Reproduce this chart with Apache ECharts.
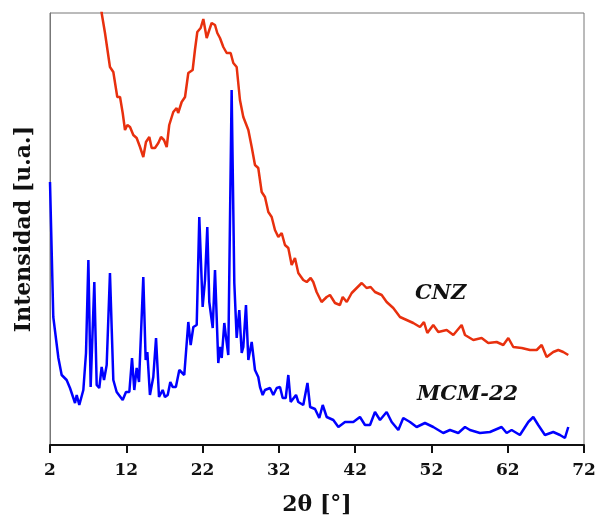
<!doctype html>
<html lang="es">
  <head>
    <meta charset="UTF-8" />
    <title>DRX CNZ / MCM-22</title>
    <script src="https://cdn.jsdelivr.net/npm/echarts@6/dist/echarts.min.js"></script>
    <style>
      body {
        margin: 0;
        padding: 0;
        background: #fff;
      }
      .main {
        width: 596px;
        height: 518px;
      }
    </style>
  </head>
  <body>
    <div class="main"></div>
    <script>
      // 2θ ticks
      const xTicks = [2, 12, 22, 32, 42, 52, 62, 72];

      // CNZ (red) - 2θ and intensidad
      const cnzTheta = [8.3, 8.77, 9.21, 9.86, 10.3, 10.82, 11.18, 11.53, 11.83, 12.14, 12.49, 12.92, 13.36, 13.8, 14.23, 14.58, 15.02, 15.33, 15.76, 16.2, 16.55, 16.94, 17.3, 17.63, 18.16, 18.6, 18.8, 19.26, 19.7, 20.13, 20.7, 21.0, 21.31, 21.75, 22.1, 22.54, 22.88, 23.19, 23.63, 23.93, 24.28, 24.72, 25.16, 25.68, 26.03, 26.47, 26.9, 27.34, 28.0, 28.44, 28.87, 29.3, 29.75, 30.18, 30.62, 31.06, 31.49, 31.93, 32.37, 32.8, 33.24, 33.68, 34.11, 34.55, 35.2, 35.65, 36.17, 36.51, 36.95, 37.6, 38.27, 38.7, 39.36, 40.0, 40.37, 40.9, 41.55, 42.2, 42.86, 43.5, 44.03, 44.6, 45.48, 46.13, 47.0, 47.88, 48.75, 49.62, 50.5, 51.02, 51.46, 52.24, 52.9, 54.0, 54.87, 55.96, 56.4, 57.49, 58.58, 59.45, 60.55, 61.42, 62.08, 62.73, 63.83, 64.92, 65.8, 66.45, 67.1, 67.97, 68.63, 69.28, 69.94];
      const cnzInt = [470, 432, 412, 378, 373, 348, 348, 332, 315, 320, 318, 310, 307, 298, 288, 303, 308, 297, 297, 302, 308, 305, 298, 320, 333, 337, 332, 343, 348, 372, 375, 395, 413, 417, 426, 407, 415, 422, 420, 412, 407, 398, 392, 392, 382, 378, 345, 328, 315, 298, 280, 277, 253, 248, 233, 228, 215, 208, 212, 200, 197, 180, 187, 172, 165, 163, 167, 163, 153, 143, 148, 150, 142, 140, 148, 143, 152, 157, 162, 157, 158, 153, 150, 143, 137, 128, 125, 122, 118, 123, 112, 120, 113, 115, 110, 120, 110, 105, 107, 102, 103, 100, 107, 98, 97, 95, 95, 100, 88, 93, 95, 93, 90];

      // MCM-22 (blue)
      const mcmTheta = [2.0, 2.43, 3.1, 3.53, 4.18, 4.62, 5.28, 5.5, 5.84, 6.37, 6.72, 7.03, 7.33, 7.81, 8.12, 8.46, 8.77, 9.08, 9.43, 9.86, 10.3, 10.74, 11.53, 11.96, 12.4, 12.75, 13.05, 13.36, 13.67, 14.23, 14.54, 14.76, 15.1, 15.54, 15.9, 16.29, 16.77, 17.07, 17.43, 17.77, 18.08, 18.5, 18.95, 19.6, 20.13, 20.44, 20.79, 21.23, 21.57, 22.01, 22.32, 22.62, 22.88, 23.1, 23.33, 23.63, 24.06, 24.28, 24.51, 24.85, 25.07, 25.37, 25.81, 26.16, 26.47, 26.81, 27.13, 27.34, 27.69, 28.0, 28.44, 28.87, 29.3, 29.53, 29.88, 30.18, 30.84, 31.27, 31.72, 32.15, 32.5, 32.9, 33.24, 33.55, 34.25, 34.55, 35.2, 35.75, 36.1, 36.74, 37.3, 37.75, 38.27, 39.14, 39.8, 40.67, 41.76, 42.63, 43.29, 43.95, 44.6, 45.26, 46.13, 46.79, 47.66, 48.31, 49.19, 50.06, 51.15, 52.24, 53.55, 54.43, 55.52, 56.4, 57.05, 58.36, 59.67, 61.2, 61.86, 62.51, 63.6, 64.7, 65.35, 66.0, 66.88, 67.97, 68.85, 69.5, 69.94];
      const mcmInt = [263, 128, 87, 70, 65, 57, 42, 50, 40, 55, 92, 185, 58, 163, 60, 57, 78, 65, 80, 172, 65, 53, 45, 53, 53, 87, 55, 77, 63, 168, 85, 93, 50, 68, 107, 48, 55, 48, 50, 63, 58, 58, 75, 70, 123, 100, 118, 120, 228, 138, 165, 218, 143, 142, 117, 175, 82, 98, 87, 122, 108, 90, 355, 162, 107, 135, 92, 98, 140, 85, 103, 75, 68, 58, 50, 55, 57, 50, 57, 58, 47, 47, 70, 43, 50, 43, 40, 62, 38, 36, 27, 40, 28, 25, 18, 23, 23, 28, 20, 20, 33, 25, 33, 23, 15, 27, 23, 18, 22, 18, 12, 15, 12, 18, 15, 12, 13, 18, 12, 15, 10, 23, 28, 20, 10, 13, 10, 7, 18];

      const pair = (xs, ys) => xs.map((x, i) => [x, ys[i]]);

      const myChart = echarts.init(document.querySelector(".main"));

      const serif = "DejaVu Serif";

      const option = {
        animation: false,
        grid: {
          left: 50,
          right: 12,
          top: 13,
          bottom: 73,
          outerBoundsMode: "none",
          show: true,
          borderColor: "#777",
          borderWidth: 1,
        },
        xAxis: {
          type: "value",
          min: xTicks[0],
          max: xTicks[xTicks.length - 1],
          interval: 10,
          name: "2θ [°]",
          nameLocation: "middle",
          nameGap: 49,
          nameTextStyle: { fontFamily: serif, fontWeight: "bold", fontSize: 22, color: "#111" },
          axisLine: { lineStyle: { color: "#111", width: 2 } },
          axisTick: { length: 8, lineStyle: { color: "#111", width: 2 } },
          axisLabel: { fontFamily: serif, fontWeight: "bold", fontSize: 17, color: "#111", margin: 17 },
          splitLine: { show: false },
        },
        yAxis: {
          type: "value",
          min: 0,
          max: 432,
          name: "Intensidad [u.a.]",
          nameLocation: "middle",
          nameGap: 15,
          nameTextStyle: { fontFamily: serif, fontWeight: "bold", fontSize: 22, color: "#111" },
          axisLine: { show: true, lineStyle: { color: "#777", width: 1 } },
          axisTick: { show: false },
          axisLabel: { show: false },
          splitLine: { show: false },
        },
        series: [
          {
            name: "CNZ",
            type: "line",
            data: pair(cnzTheta, cnzInt),
            showSymbol: false,
            clip: true,
            lineStyle: { color: "#e8300e", width: 2.5 },
            itemStyle: { color: "#e8300e" },
          },
          {
            name: "MCM-22",
            type: "line",
            data: pair(mcmTheta, mcmInt),
            showSymbol: false,
            clip: true,
            lineStyle: { color: "#0000ff", width: 2.5 },
            itemStyle: { color: "#0000ff" },
          },
        ],
        graphic: [
          {
            type: "text",
            left: 415,
            top: 283,
            style: { text: "CNZ", font: "italic bold 21px 'DejaVu Serif'", fill: "#111" },
          },
          {
            type: "text",
            left: 417,
            top: 384,
            style: { text: "MCM-22", font: "italic bold 21px 'DejaVu Serif'", fill: "#111" },
          },
        ],
      };

      myChart.setOption(option);
    </script>
  </body>
</html>
